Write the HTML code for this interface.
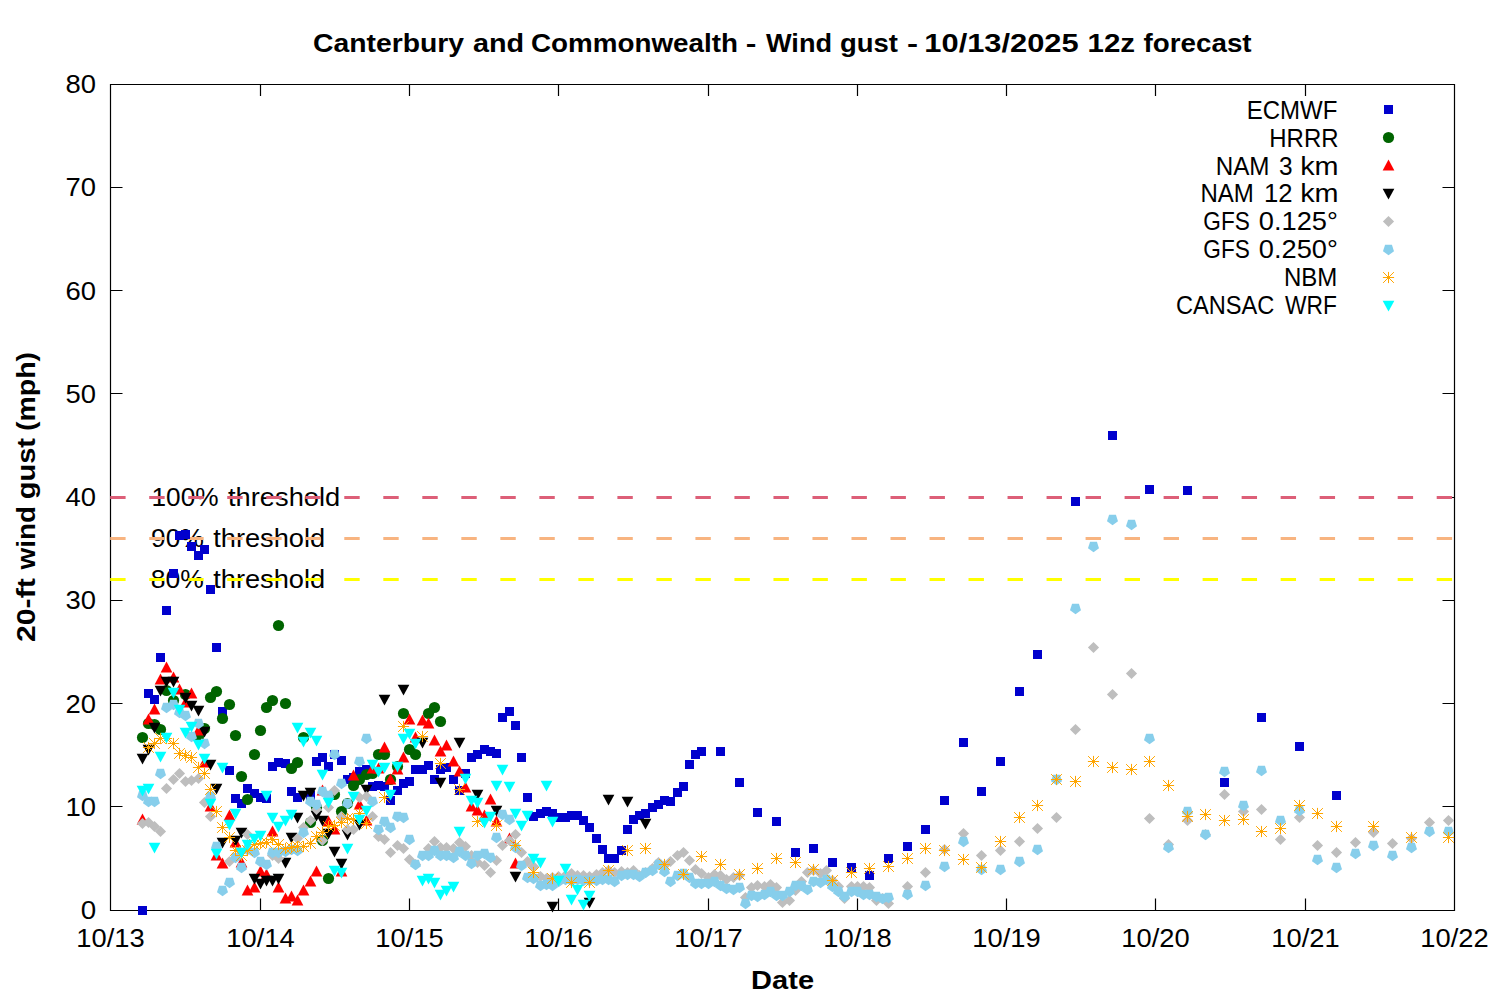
<!DOCTYPE html><html><head><meta charset="utf-8"><style>html,body{margin:0;padding:0;background:#fff;}svg{display:block;} text{font-family:"Liberation Sans", sans-serif;}</style></head><body>
<svg width="1500" height="1000" viewBox="0 0 1500 1000" font-family="'Liberation Sans', sans-serif">
<rect width="1500" height="1000" fill="#fff"/>
<text x="312.99" y="51.8" font-size="26" font-weight="bold" textLength="151.01" lengthAdjust="spacingAndGlyphs">Canterbury</text>
<text x="472.93" y="51.8" font-size="26" font-weight="bold" textLength="51.20" lengthAdjust="spacingAndGlyphs">and</text>
<text x="530.99" y="51.8" font-size="26" font-weight="bold" textLength="207.02" lengthAdjust="spacingAndGlyphs">Commonwealth</text>
<text x="745.67" y="51.8" font-size="26" font-weight="bold" textLength="10.67" lengthAdjust="spacingAndGlyphs">-</text>
<text x="766.00" y="51.8" font-size="26" font-weight="bold" textLength="66.02" lengthAdjust="spacingAndGlyphs">Wind</text>
<text x="839.98" y="51.8" font-size="26" font-weight="bold" textLength="58.02" lengthAdjust="spacingAndGlyphs">gust</text>
<text x="907.07" y="51.8" font-size="26" font-weight="bold" textLength="11.06" lengthAdjust="spacingAndGlyphs">-</text>
<text x="924.36" y="51.8" font-size="26" font-weight="bold" textLength="154.25" lengthAdjust="spacingAndGlyphs">10/13/2025</text>
<text x="1087.49" y="51.8" font-size="26" font-weight="bold" textLength="47.59" lengthAdjust="spacingAndGlyphs">12z</text>
<text x="1143.59" y="51.8" font-size="26" font-weight="bold" textLength="108.02" lengthAdjust="spacingAndGlyphs">forecast</text>
<text x="80.83" y="919.0" font-size="25" textLength="15.43" lengthAdjust="spacingAndGlyphs">0</text>
<text x="65.61" y="815.8" font-size="25" textLength="30.49" lengthAdjust="spacingAndGlyphs">10</text>
<text x="65.61" y="712.5" font-size="25" textLength="30.49" lengthAdjust="spacingAndGlyphs">20</text>
<text x="65.61" y="609.2" font-size="25" textLength="30.49" lengthAdjust="spacingAndGlyphs">30</text>
<text x="65.61" y="506.0" font-size="25" textLength="30.49" lengthAdjust="spacingAndGlyphs">40</text>
<text x="65.61" y="402.8" font-size="25" textLength="30.49" lengthAdjust="spacingAndGlyphs">50</text>
<text x="65.61" y="299.5" font-size="25" textLength="30.49" lengthAdjust="spacingAndGlyphs">60</text>
<text x="65.61" y="196.2" font-size="25" textLength="30.49" lengthAdjust="spacingAndGlyphs">70</text>
<text x="65.61" y="93.0" font-size="25" textLength="30.49" lengthAdjust="spacingAndGlyphs">80</text>
<text x="76.39" y="947" font-size="25" textLength="68.36" lengthAdjust="spacingAndGlyphs">10/13</text>
<text x="226.39" y="947" font-size="25" textLength="68.36" lengthAdjust="spacingAndGlyphs">10/14</text>
<text x="375.39" y="947" font-size="25" textLength="68.36" lengthAdjust="spacingAndGlyphs">10/15</text>
<text x="524.39" y="947" font-size="25" textLength="68.36" lengthAdjust="spacingAndGlyphs">10/16</text>
<text x="674.39" y="947" font-size="25" textLength="68.36" lengthAdjust="spacingAndGlyphs">10/17</text>
<text x="823.39" y="947" font-size="25" textLength="68.36" lengthAdjust="spacingAndGlyphs">10/18</text>
<text x="972.39" y="947" font-size="25" textLength="68.36" lengthAdjust="spacingAndGlyphs">10/19</text>
<text x="1121.39" y="947" font-size="25" textLength="68.36" lengthAdjust="spacingAndGlyphs">10/20</text>
<text x="1271.39" y="947" font-size="25" textLength="68.36" lengthAdjust="spacingAndGlyphs">10/21</text>
<text x="1420.39" y="947" font-size="25" textLength="68.36" lengthAdjust="spacingAndGlyphs">10/22</text>
<text x="751.11" y="988.9" font-size="25" font-weight="bold" textLength="62.92" lengthAdjust="spacingAndGlyphs">Date</text>
<text transform="translate(35.1,0) rotate(-90)" x="-642.02" y="0" font-size="25" font-weight="bold" textLength="63.84" lengthAdjust="spacingAndGlyphs">20-ft</text>
<text transform="translate(35.1,0) rotate(-90)" x="-569.42" y="0" font-size="25" font-weight="bold" textLength="63.28" lengthAdjust="spacingAndGlyphs">wind</text>
<text transform="translate(35.1,0) rotate(-90)" x="-499.23" y="0" font-size="25" font-weight="bold" textLength="61.23" lengthAdjust="spacingAndGlyphs">gust</text>
<text transform="translate(35.1,0) rotate(-90)" x="-431.08" y="0" font-size="25" font-weight="bold" textLength="79.15" lengthAdjust="spacingAndGlyphs">(mph)</text>
<text x="151.53" y="505.9" font-size="25" textLength="67.08" lengthAdjust="spacingAndGlyphs">100%</text>
<text x="228.00" y="505.9" font-size="25" textLength="112.23" lengthAdjust="spacingAndGlyphs">threshold</text>
<text x="151.14" y="547.3" font-size="25" textLength="52.68" lengthAdjust="spacingAndGlyphs">90%</text>
<text x="213.19" y="547.3" font-size="25" textLength="112.04" lengthAdjust="spacingAndGlyphs">threshold</text>
<text x="150.74" y="588.2" font-size="25" textLength="53.08" lengthAdjust="spacingAndGlyphs">80%</text>
<text x="213.19" y="588.2" font-size="25" textLength="112.04" lengthAdjust="spacingAndGlyphs">threshold</text>
<path d="M110.5,84.5H1454.5V910.5H110.5ZM110.5,806.5h12M1454.5,806.5h-12M110.5,703.5h12M1454.5,703.5h-12M110.5,600.5h12M1454.5,600.5h-12M110.5,497.5h12M1454.5,497.5h-12M110.5,393.5h12M1454.5,393.5h-12M110.5,290.5h12M1454.5,290.5h-12M110.5,187.5h12M1454.5,187.5h-12M260.5,910.5v-12M260.5,84.5v11.5M409.5,910.5v-12M409.5,84.5v11.5M558.5,910.5v-12M558.5,84.5v11.5M708.5,910.5v-12M708.5,84.5v11.5M857.5,910.5v-12M857.5,84.5v11.5M1006.5,910.5v-12M1006.5,84.5v11.5M1155.5,910.5v-12M1155.5,84.5v11.5M1305.5,910.5v-12M1305.5,84.5v11.5" fill="none" stroke="#000" stroke-width="1.2"/>
<path d="M110.2,497.50H1454" stroke="#dd5f78" stroke-width="3" stroke-dasharray="15.4 23.615" fill="none"/>
<path d="M110.2,538.50H1454" stroke="#f8b480" stroke-width="3" stroke-dasharray="15.4 23.615" fill="none"/>
<path d="M110.2,579.50H1454" stroke="#ffff00" stroke-width="3" stroke-dasharray="15.4 23.615" fill="none"/>
<text x="1246.73" y="118.5" font-size="25" textLength="90.70" lengthAdjust="spacingAndGlyphs">ECMWF</text>
<text x="1269.30" y="146.5" font-size="25" textLength="69.16" lengthAdjust="spacingAndGlyphs">HRRR</text>
<text x="1215.67" y="174.5" font-size="25" textLength="53.83" lengthAdjust="spacingAndGlyphs">NAM</text>
<text x="1278.97" y="174.5" font-size="25" textLength="13.55" lengthAdjust="spacingAndGlyphs">3</text>
<text x="1300.20" y="174.5" font-size="25" textLength="38.41" lengthAdjust="spacingAndGlyphs">km</text>
<text x="1200.48" y="202.1" font-size="25" textLength="53.41" lengthAdjust="spacingAndGlyphs">NAM</text>
<text x="1264.03" y="202.1" font-size="25" textLength="28.55" lengthAdjust="spacingAndGlyphs">12</text>
<text x="1300.20" y="202.1" font-size="25" textLength="38.41" lengthAdjust="spacingAndGlyphs">km</text>
<text x="1203.36" y="230.4" font-size="25" textLength="46.47" lengthAdjust="spacingAndGlyphs">GFS</text>
<text x="1258.76" y="230.4" font-size="25" textLength="79.09" lengthAdjust="spacingAndGlyphs">0.125°</text>
<text x="1203.36" y="258.4" font-size="25" textLength="46.47" lengthAdjust="spacingAndGlyphs">GFS</text>
<text x="1258.76" y="258.4" font-size="25" textLength="79.09" lengthAdjust="spacingAndGlyphs">0.250°</text>
<text x="1283.90" y="285.8" font-size="25" textLength="53.41" lengthAdjust="spacingAndGlyphs">NBM</text>
<text x="1175.98" y="313.8" font-size="25" textLength="98.43" lengthAdjust="spacingAndGlyphs">CANSAC</text>
<text x="1284.98" y="313.8" font-size="25" textLength="51.84" lengthAdjust="spacingAndGlyphs">WRF</text>
<g fill="#0000cd"><rect x="1384.0" y="105.0" width="9" height="9"/></g>
<g fill="#006400"><circle cx="1388.5" cy="137.5" r="5.6"/></g>
<g fill="#ff0000"><path d="M1388.5,159.4l5.85,11h-11.7z"/></g>
<g fill="#000000"><path d="M1388.5,199.4l5.85,-10.6h-11.7z"/></g>
<g fill="#bebebe"><path d="M1388.5,215.9l5.6,5.6l-5.6,5.6l-5.6,-5.6z"/></g>
<g fill="#87ceeb"><path d="M1388.5,255.3L1383.0,251.3L1385.1,244.8L1391.9,244.8L1394.0,251.3Z"/></g>
<g fill="none" stroke="#ffa500" stroke-width="1"><path d="M1382.9,277.5h11.2M1388.5,271.9v11.2M1383.1,272.1l10.8,10.8M1383.1,282.9l10.8,-10.8"/></g>
<g fill="#00ffff"><path d="M1388.5,311.4l5.85,-10.6h-11.7z"/></g>
<g fill="#0000cd"><rect x="138.0" y="906.0" width="9" height="9"/><rect x="144.0" y="689.0" width="9" height="9"/><rect x="150.0" y="695.0" width="9" height="9"/><rect x="156.0" y="653.0" width="9" height="9"/><rect x="162.0" y="606.0" width="9" height="9"/><rect x="169.0" y="569.0" width="9" height="9"/><rect x="175.0" y="531.0" width="9" height="9"/><rect x="181.0" y="530.0" width="9" height="9"/><rect x="187.0" y="542.0" width="9" height="9"/><rect x="194.0" y="551.0" width="9" height="9"/><rect x="200.0" y="545.0" width="9" height="9"/><rect x="206.0" y="585.0" width="9" height="9"/><rect x="212.0" y="643.0" width="9" height="9"/><rect x="218.0" y="707.0" width="9" height="9"/><rect x="225.0" y="766.0" width="9" height="9"/><rect x="231.0" y="794.0" width="9" height="9"/><rect x="237.0" y="799.0" width="9" height="9"/><rect x="243.0" y="784.0" width="9" height="9"/><rect x="250.0" y="789.0" width="9" height="9"/><rect x="256.0" y="793.0" width="9" height="9"/><rect x="262.0" y="794.0" width="9" height="9"/><rect x="268.0" y="762.0" width="9" height="9"/><rect x="274.0" y="758.0" width="9" height="9"/><rect x="281.0" y="759.0" width="9" height="9"/><rect x="287.0" y="787.0" width="9" height="9"/><rect x="293.0" y="793.0" width="9" height="9"/><rect x="306.0" y="791.0" width="9" height="9"/><rect x="312.0" y="757.0" width="9" height="9"/><rect x="318.0" y="753.0" width="9" height="9"/><rect x="324.0" y="762.0" width="9" height="9"/><rect x="330.0" y="750.0" width="9" height="9"/><rect x="337.0" y="756.0" width="9" height="9"/><rect x="343.0" y="775.0" width="9" height="9"/><rect x="349.0" y="773.0" width="9" height="9"/><rect x="355.0" y="767.0" width="9" height="9"/><rect x="362.0" y="765.0" width="9" height="9"/><rect x="368.0" y="782.0" width="9" height="9"/><rect x="374.0" y="781.0" width="9" height="9"/><rect x="380.0" y="782.0" width="9" height="9"/><rect x="386.0" y="796.0" width="9" height="9"/><rect x="393.0" y="786.0" width="9" height="9"/><rect x="399.0" y="779.0" width="9" height="9"/><rect x="405.0" y="777.0" width="9" height="9"/><rect x="411.0" y="765.0" width="9" height="9"/><rect x="418.0" y="765.0" width="9" height="9"/><rect x="424.0" y="761.0" width="9" height="9"/><rect x="430.0" y="775.0" width="9" height="9"/><rect x="436.0" y="765.0" width="9" height="9"/><rect x="442.0" y="763.0" width="9" height="9"/><rect x="449.0" y="775.0" width="9" height="9"/><rect x="455.0" y="786.0" width="9" height="9"/><rect x="461.0" y="769.0" width="9" height="9"/><rect x="467.0" y="753.0" width="9" height="9"/><rect x="473.0" y="750.0" width="9" height="9"/><rect x="480.0" y="745.0" width="9" height="9"/><rect x="486.0" y="747.0" width="9" height="9"/><rect x="492.0" y="749.0" width="9" height="9"/><rect x="498.0" y="713.0" width="9" height="9"/><rect x="505.0" y="707.0" width="9" height="9"/><rect x="511.0" y="721.0" width="9" height="9"/><rect x="517.0" y="753.0" width="9" height="9"/><rect x="523.0" y="793.0" width="9" height="9"/><rect x="529.0" y="812.0" width="9" height="9"/><rect x="536.0" y="809.0" width="9" height="9"/><rect x="542.0" y="807.0" width="9" height="9"/><rect x="548.0" y="809.0" width="9" height="9"/><rect x="554.0" y="813.0" width="9" height="9"/><rect x="561.0" y="813.0" width="9" height="9"/><rect x="567.0" y="811.0" width="9" height="9"/><rect x="573.0" y="811.0" width="9" height="9"/><rect x="579.0" y="816.0" width="9" height="9"/><rect x="585.0" y="823.0" width="9" height="9"/><rect x="592.0" y="834.0" width="9" height="9"/><rect x="598.0" y="845.0" width="9" height="9"/><rect x="604.0" y="854.0" width="9" height="9"/><rect x="610.0" y="854.0" width="9" height="9"/><rect x="617.0" y="846.0" width="9" height="9"/><rect x="623.0" y="825.0" width="9" height="9"/><rect x="629.0" y="815.0" width="9" height="9"/><rect x="635.0" y="811.0" width="9" height="9"/><rect x="641.0" y="809.0" width="9" height="9"/><rect x="648.0" y="803.0" width="9" height="9"/><rect x="654.0" y="800.0" width="9" height="9"/><rect x="660.0" y="796.0" width="9" height="9"/><rect x="666.0" y="797.0" width="9" height="9"/><rect x="673.0" y="788.0" width="9" height="9"/><rect x="679.0" y="782.0" width="9" height="9"/><rect x="685.0" y="760.0" width="9" height="9"/><rect x="691.0" y="750.0" width="9" height="9"/><rect x="697.0" y="747.0" width="9" height="9"/><rect x="716.0" y="747.0" width="9" height="9"/><rect x="735.0" y="778.0" width="9" height="9"/><rect x="753.0" y="808.0" width="9" height="9"/><rect x="772.0" y="817.0" width="9" height="9"/><rect x="791.0" y="848.0" width="9" height="9"/><rect x="809.0" y="844.0" width="9" height="9"/><rect x="828.0" y="858.0" width="9" height="9"/><rect x="847.0" y="863.0" width="9" height="9"/><rect x="865.0" y="871.0" width="9" height="9"/><rect x="884.0" y="854.0" width="9" height="9"/><rect x="903.0" y="842.0" width="9" height="9"/><rect x="921.0" y="825.0" width="9" height="9"/><rect x="940.0" y="796.0" width="9" height="9"/><rect x="959.0" y="738.0" width="9" height="9"/><rect x="977.0" y="787.0" width="9" height="9"/><rect x="996.0" y="757.0" width="9" height="9"/><rect x="1015.0" y="687.0" width="9" height="9"/><rect x="1033.0" y="650.0" width="9" height="9"/><rect x="1071.0" y="497.0" width="9" height="9"/><rect x="1108.0" y="431.0" width="9" height="9"/><rect x="1145.0" y="485.0" width="9" height="9"/><rect x="1183.0" y="486.0" width="9" height="9"/><rect x="1220.0" y="778.0" width="9" height="9"/><rect x="1257.0" y="713.0" width="9" height="9"/><rect x="1295.0" y="742.0" width="9" height="9"/><rect x="1332.0" y="791.0" width="9" height="9"/></g>
<g fill="#006400"><circle cx="142.5" cy="737.5" r="5.6"/><circle cx="148.5" cy="723.5" r="5.6"/><circle cx="154.5" cy="724.5" r="5.6"/><circle cx="160.5" cy="729.5" r="5.6"/><circle cx="166.5" cy="690.5" r="5.6"/><circle cx="173.5" cy="700.5" r="5.6"/><circle cx="185.5" cy="694.5" r="5.6"/><circle cx="198.5" cy="736.5" r="5.6"/><circle cx="204.5" cy="728.5" r="5.6"/><circle cx="210.5" cy="697.5" r="5.6"/><circle cx="216.5" cy="691.5" r="5.6"/><circle cx="222.5" cy="718.5" r="5.6"/><circle cx="229.5" cy="704.5" r="5.6"/><circle cx="235.5" cy="735.5" r="5.6"/><circle cx="241.5" cy="776.5" r="5.6"/><circle cx="247.5" cy="799.5" r="5.6"/><circle cx="254.5" cy="754.5" r="5.6"/><circle cx="260.5" cy="730.5" r="5.6"/><circle cx="266.5" cy="707.5" r="5.6"/><circle cx="272.5" cy="700.5" r="5.6"/><circle cx="278.5" cy="625.5" r="5.6"/><circle cx="285.5" cy="703.5" r="5.6"/><circle cx="291.5" cy="768.5" r="5.6"/><circle cx="297.5" cy="762.5" r="5.6"/><circle cx="303.5" cy="737.5" r="5.6"/><circle cx="310.5" cy="822.5" r="5.6"/><circle cx="316.5" cy="807.5" r="5.6"/><circle cx="322.5" cy="840.5" r="5.6"/><circle cx="328.5" cy="878.5" r="5.6"/><circle cx="334.5" cy="794.5" r="5.6"/><circle cx="341.5" cy="811.5" r="5.6"/><circle cx="347.5" cy="803.5" r="5.6"/><circle cx="353.5" cy="785.5" r="5.6"/><circle cx="359.5" cy="779.5" r="5.6"/><circle cx="366.5" cy="774.5" r="5.6"/><circle cx="372.5" cy="773.5" r="5.6"/><circle cx="378.5" cy="754.5" r="5.6"/><circle cx="384.5" cy="754.5" r="5.6"/><circle cx="390.5" cy="779.5" r="5.6"/><circle cx="397.5" cy="766.5" r="5.6"/><circle cx="403.5" cy="713.5" r="5.6"/><circle cx="409.5" cy="749.5" r="5.6"/><circle cx="415.5" cy="754.5" r="5.6"/><circle cx="428.5" cy="713.5" r="5.6"/><circle cx="434.5" cy="707.5" r="5.6"/><circle cx="440.5" cy="721.5" r="5.6"/></g>
<g fill="#ff0000"><path d="M142.5,813.4l5.85,11h-11.7z"/><path d="M148.5,713.4l5.85,11h-11.7z"/><path d="M154.5,703.4l5.85,11h-11.7z"/><path d="M160.5,673.4l5.85,11h-11.7z"/><path d="M166.5,661.4l5.85,11h-11.7z"/><path d="M173.5,671.4l5.85,11h-11.7z"/><path d="M179.5,683.4l5.85,11h-11.7z"/><path d="M185.5,696.4l5.85,11h-11.7z"/><path d="M191.5,687.4l5.85,11h-11.7z"/><path d="M198.5,724.4l5.85,11h-11.7z"/><path d="M204.5,756.4l5.85,11h-11.7z"/><path d="M210.5,800.4l5.85,11h-11.7z"/><path d="M216.5,849.4l5.85,11h-11.7z"/><path d="M222.5,857.4l5.85,11h-11.7z"/><path d="M229.5,809.4l5.85,11h-11.7z"/><path d="M235.5,836.4l5.85,11h-11.7z"/><path d="M241.5,856.4l5.85,11h-11.7z"/><path d="M247.5,884.4l5.85,11h-11.7z"/><path d="M254.5,881.4l5.85,11h-11.7z"/><path d="M260.5,865.4l5.85,11h-11.7z"/><path d="M266.5,868.4l5.85,11h-11.7z"/><path d="M272.5,825.4l5.85,11h-11.7z"/><path d="M278.5,881.4l5.85,11h-11.7z"/><path d="M285.5,892.4l5.85,11h-11.7z"/><path d="M291.5,890.4l5.85,11h-11.7z"/><path d="M297.5,894.4l5.85,11h-11.7z"/><path d="M303.5,884.4l5.85,11h-11.7z"/><path d="M310.5,875.4l5.85,11h-11.7z"/><path d="M316.5,865.4l5.85,11h-11.7z"/><path d="M322.5,784.4l5.85,11h-11.7z"/><path d="M328.5,815.4l5.85,11h-11.7z"/><path d="M334.5,823.4l5.85,11h-11.7z"/><path d="M341.5,865.4l5.85,11h-11.7z"/><path d="M353.5,769.4l5.85,11h-11.7z"/><path d="M359.5,798.4l5.85,11h-11.7z"/><path d="M366.5,814.4l5.85,11h-11.7z"/><path d="M372.5,762.4l5.85,11h-11.7z"/><path d="M378.5,762.4l5.85,11h-11.7z"/><path d="M384.5,741.4l5.85,11h-11.7z"/><path d="M390.5,773.4l5.85,11h-11.7z"/><path d="M397.5,763.4l5.85,11h-11.7z"/><path d="M403.5,751.4l5.85,11h-11.7z"/><path d="M409.5,713.4l5.85,11h-11.7z"/><path d="M415.5,731.4l5.85,11h-11.7z"/><path d="M422.5,714.4l5.85,11h-11.7z"/><path d="M428.5,717.4l5.85,11h-11.7z"/><path d="M434.5,734.4l5.85,11h-11.7z"/><path d="M440.5,745.4l5.85,11h-11.7z"/><path d="M446.5,739.4l5.85,11h-11.7z"/><path d="M453.5,755.4l5.85,11h-11.7z"/><path d="M459.5,765.4l5.85,11h-11.7z"/><path d="M465.5,781.4l5.85,11h-11.7z"/><path d="M471.5,800.4l5.85,11h-11.7z"/><path d="M477.5,804.4l5.85,11h-11.7z"/><path d="M484.5,809.4l5.85,11h-11.7z"/><path d="M490.5,793.4l5.85,11h-11.7z"/><path d="M496.5,815.4l5.85,11h-11.7z"/><path d="M509.5,832.4l5.85,11h-11.7z"/><path d="M515.5,857.4l5.85,11h-11.7z"/></g>
<g fill="#000000"><path d="M142.5,764.4l5.85,-10.6h-11.7z"/><path d="M148.5,755.4l5.85,-10.6h-11.7z"/><path d="M154.5,733.4l5.85,-10.6h-11.7z"/><path d="M160.5,696.4l5.85,-10.6h-11.7z"/><path d="M166.5,687.4l5.85,-10.6h-11.7z"/><path d="M173.5,687.4l5.85,-10.6h-11.7z"/><path d="M185.5,703.4l5.85,-10.6h-11.7z"/><path d="M191.5,711.4l5.85,-10.6h-11.7z"/><path d="M198.5,716.4l5.85,-10.6h-11.7z"/><path d="M204.5,737.4l5.85,-10.6h-11.7z"/><path d="M210.5,770.4l5.85,-10.6h-11.7z"/><path d="M216.5,794.4l5.85,-10.6h-11.7z"/><path d="M222.5,848.4l5.85,-10.6h-11.7z"/><path d="M235.5,846.4l5.85,-10.6h-11.7z"/><path d="M241.5,838.4l5.85,-10.6h-11.7z"/><path d="M254.5,884.4l5.85,-10.6h-11.7z"/><path d="M260.5,889.4l5.85,-10.6h-11.7z"/><path d="M266.5,886.4l5.85,-10.6h-11.7z"/><path d="M272.5,886.4l5.85,-10.6h-11.7z"/><path d="M278.5,884.4l5.85,-10.6h-11.7z"/><path d="M285.5,868.4l5.85,-10.6h-11.7z"/><path d="M291.5,843.4l5.85,-10.6h-11.7z"/><path d="M297.5,823.4l5.85,-10.6h-11.7z"/><path d="M303.5,801.4l5.85,-10.6h-11.7z"/><path d="M310.5,798.4l5.85,-10.6h-11.7z"/><path d="M316.5,821.4l5.85,-10.6h-11.7z"/><path d="M322.5,826.4l5.85,-10.6h-11.7z"/><path d="M328.5,839.4l5.85,-10.6h-11.7z"/><path d="M334.5,857.4l5.85,-10.6h-11.7z"/><path d="M341.5,869.4l5.85,-10.6h-11.7z"/><path d="M347.5,840.4l5.85,-10.6h-11.7z"/><path d="M359.5,830.4l5.85,-10.6h-11.7z"/><path d="M366.5,795.4l5.85,-10.6h-11.7z"/><path d="M384.5,705.4l5.85,-10.6h-11.7z"/><path d="M403.5,695.4l5.85,-10.6h-11.7z"/><path d="M422.5,748.4l5.85,-10.6h-11.7z"/><path d="M440.5,788.4l5.85,-10.6h-11.7z"/><path d="M459.5,748.4l5.85,-10.6h-11.7z"/><path d="M477.5,800.4l5.85,-10.6h-11.7z"/><path d="M496.5,816.4l5.85,-10.6h-11.7z"/><path d="M515.5,882.4l5.85,-10.6h-11.7z"/><path d="M552.5,912.4l5.85,-10.6h-11.7z"/><path d="M589.5,908.4l5.85,-10.6h-11.7z"/><path d="M608.5,805.4l5.85,-10.6h-11.7z"/><path d="M627.5,807.4l5.85,-10.6h-11.7z"/><path d="M645.5,829.4l5.85,-10.6h-11.7z"/></g>
<g fill="#bebebe"><path d="M142.5,817.9l5.6,5.6l-5.6,5.6l-5.6,-5.6z"/><path d="M148.5,816.9l5.6,5.6l-5.6,5.6l-5.6,-5.6z"/><path d="M154.5,820.9l5.6,5.6l-5.6,5.6l-5.6,-5.6z"/><path d="M160.5,825.9l5.6,5.6l-5.6,5.6l-5.6,-5.6z"/><path d="M166.5,782.9l5.6,5.6l-5.6,5.6l-5.6,-5.6z"/><path d="M173.5,773.9l5.6,5.6l-5.6,5.6l-5.6,-5.6z"/><path d="M179.5,767.9l5.6,5.6l-5.6,5.6l-5.6,-5.6z"/><path d="M185.5,775.9l5.6,5.6l-5.6,5.6l-5.6,-5.6z"/><path d="M191.5,774.9l5.6,5.6l-5.6,5.6l-5.6,-5.6z"/><path d="M198.5,772.9l5.6,5.6l-5.6,5.6l-5.6,-5.6z"/><path d="M204.5,796.9l5.6,5.6l-5.6,5.6l-5.6,-5.6z"/><path d="M210.5,810.9l5.6,5.6l-5.6,5.6l-5.6,-5.6z"/><path d="M229.5,855.9l5.6,5.6l-5.6,5.6l-5.6,-5.6z"/><path d="M247.5,828.9l5.6,5.6l-5.6,5.6l-5.6,-5.6z"/><path d="M272.5,849.9l5.6,5.6l-5.6,5.6l-5.6,-5.6z"/><path d="M278.5,852.9l5.6,5.6l-5.6,5.6l-5.6,-5.6z"/><path d="M297.5,832.9l5.6,5.6l-5.6,5.6l-5.6,-5.6z"/><path d="M303.5,821.9l5.6,5.6l-5.6,5.6l-5.6,-5.6z"/><path d="M310.5,814.9l5.6,5.6l-5.6,5.6l-5.6,-5.6z"/><path d="M316.5,803.9l5.6,5.6l-5.6,5.6l-5.6,-5.6z"/><path d="M322.5,834.9l5.6,5.6l-5.6,5.6l-5.6,-5.6z"/><path d="M328.5,801.9l5.6,5.6l-5.6,5.6l-5.6,-5.6z"/><path d="M334.5,784.9l5.6,5.6l-5.6,5.6l-5.6,-5.6z"/><path d="M341.5,810.9l5.6,5.6l-5.6,5.6l-5.6,-5.6z"/><path d="M347.5,823.9l5.6,5.6l-5.6,5.6l-5.6,-5.6z"/><path d="M353.5,823.9l5.6,5.6l-5.6,5.6l-5.6,-5.6z"/><path d="M359.5,791.9l5.6,5.6l-5.6,5.6l-5.6,-5.6z"/><path d="M366.5,790.9l5.6,5.6l-5.6,5.6l-5.6,-5.6z"/><path d="M372.5,810.9l5.6,5.6l-5.6,5.6l-5.6,-5.6z"/><path d="M378.5,830.9l5.6,5.6l-5.6,5.6l-5.6,-5.6z"/><path d="M384.5,833.9l5.6,5.6l-5.6,5.6l-5.6,-5.6z"/><path d="M390.5,846.9l5.6,5.6l-5.6,5.6l-5.6,-5.6z"/><path d="M397.5,839.9l5.6,5.6l-5.6,5.6l-5.6,-5.6z"/><path d="M403.5,842.9l5.6,5.6l-5.6,5.6l-5.6,-5.6z"/><path d="M409.5,853.9l5.6,5.6l-5.6,5.6l-5.6,-5.6z"/><path d="M415.5,858.9l5.6,5.6l-5.6,5.6l-5.6,-5.6z"/><path d="M428.5,842.9l5.6,5.6l-5.6,5.6l-5.6,-5.6z"/><path d="M434.5,835.9l5.6,5.6l-5.6,5.6l-5.6,-5.6z"/><path d="M440.5,841.9l5.6,5.6l-5.6,5.6l-5.6,-5.6z"/><path d="M446.5,841.9l5.6,5.6l-5.6,5.6l-5.6,-5.6z"/><path d="M453.5,842.9l5.6,5.6l-5.6,5.6l-5.6,-5.6z"/><path d="M459.5,836.9l5.6,5.6l-5.6,5.6l-5.6,-5.6z"/><path d="M465.5,840.9l5.6,5.6l-5.6,5.6l-5.6,-5.6z"/><path d="M471.5,849.9l5.6,5.6l-5.6,5.6l-5.6,-5.6z"/><path d="M477.5,856.9l5.6,5.6l-5.6,5.6l-5.6,-5.6z"/><path d="M484.5,859.9l5.6,5.6l-5.6,5.6l-5.6,-5.6z"/><path d="M490.5,866.9l5.6,5.6l-5.6,5.6l-5.6,-5.6z"/><path d="M496.5,854.9l5.6,5.6l-5.6,5.6l-5.6,-5.6z"/><path d="M502.5,839.9l5.6,5.6l-5.6,5.6l-5.6,-5.6z"/><path d="M509.5,834.9l5.6,5.6l-5.6,5.6l-5.6,-5.6z"/><path d="M515.5,828.9l5.6,5.6l-5.6,5.6l-5.6,-5.6z"/><path d="M521.5,846.9l5.6,5.6l-5.6,5.6l-5.6,-5.6z"/><path d="M527.5,855.9l5.6,5.6l-5.6,5.6l-5.6,-5.6z"/><path d="M533.5,860.9l5.6,5.6l-5.6,5.6l-5.6,-5.6z"/><path d="M540.5,870.9l5.6,5.6l-5.6,5.6l-5.6,-5.6z"/><path d="M546.5,872.9l5.6,5.6l-5.6,5.6l-5.6,-5.6z"/><path d="M552.5,871.9l5.6,5.6l-5.6,5.6l-5.6,-5.6z"/><path d="M558.5,870.9l5.6,5.6l-5.6,5.6l-5.6,-5.6z"/><path d="M565.5,869.9l5.6,5.6l-5.6,5.6l-5.6,-5.6z"/><path d="M571.5,867.9l5.6,5.6l-5.6,5.6l-5.6,-5.6z"/><path d="M577.5,869.9l5.6,5.6l-5.6,5.6l-5.6,-5.6z"/><path d="M583.5,869.9l5.6,5.6l-5.6,5.6l-5.6,-5.6z"/><path d="M589.5,870.9l5.6,5.6l-5.6,5.6l-5.6,-5.6z"/><path d="M596.5,868.9l5.6,5.6l-5.6,5.6l-5.6,-5.6z"/><path d="M602.5,866.9l5.6,5.6l-5.6,5.6l-5.6,-5.6z"/><path d="M608.5,864.9l5.6,5.6l-5.6,5.6l-5.6,-5.6z"/><path d="M614.5,866.9l5.6,5.6l-5.6,5.6l-5.6,-5.6z"/><path d="M621.5,865.9l5.6,5.6l-5.6,5.6l-5.6,-5.6z"/><path d="M627.5,866.9l5.6,5.6l-5.6,5.6l-5.6,-5.6z"/><path d="M633.5,864.9l5.6,5.6l-5.6,5.6l-5.6,-5.6z"/><path d="M639.5,869.9l5.6,5.6l-5.6,5.6l-5.6,-5.6z"/><path d="M645.5,866.9l5.6,5.6l-5.6,5.6l-5.6,-5.6z"/><path d="M652.5,862.9l5.6,5.6l-5.6,5.6l-5.6,-5.6z"/><path d="M658.5,856.9l5.6,5.6l-5.6,5.6l-5.6,-5.6z"/><path d="M664.5,859.9l5.6,5.6l-5.6,5.6l-5.6,-5.6z"/><path d="M670.5,855.9l5.6,5.6l-5.6,5.6l-5.6,-5.6z"/><path d="M677.5,849.9l5.6,5.6l-5.6,5.6l-5.6,-5.6z"/><path d="M683.5,846.9l5.6,5.6l-5.6,5.6l-5.6,-5.6z"/><path d="M689.5,854.9l5.6,5.6l-5.6,5.6l-5.6,-5.6z"/><path d="M695.5,863.9l5.6,5.6l-5.6,5.6l-5.6,-5.6z"/><path d="M701.5,867.9l5.6,5.6l-5.6,5.6l-5.6,-5.6z"/><path d="M708.5,871.9l5.6,5.6l-5.6,5.6l-5.6,-5.6z"/><path d="M714.5,868.9l5.6,5.6l-5.6,5.6l-5.6,-5.6z"/><path d="M720.5,869.9l5.6,5.6l-5.6,5.6l-5.6,-5.6z"/><path d="M726.5,873.9l5.6,5.6l-5.6,5.6l-5.6,-5.6z"/><path d="M733.5,871.9l5.6,5.6l-5.6,5.6l-5.6,-5.6z"/><path d="M739.5,869.9l5.6,5.6l-5.6,5.6l-5.6,-5.6z"/><path d="M745.5,891.9l5.6,5.6l-5.6,5.6l-5.6,-5.6z"/><path d="M751.5,881.9l5.6,5.6l-5.6,5.6l-5.6,-5.6z"/><path d="M757.5,879.9l5.6,5.6l-5.6,5.6l-5.6,-5.6z"/><path d="M764.5,880.9l5.6,5.6l-5.6,5.6l-5.6,-5.6z"/><path d="M770.5,878.9l5.6,5.6l-5.6,5.6l-5.6,-5.6z"/><path d="M776.5,881.9l5.6,5.6l-5.6,5.6l-5.6,-5.6z"/><path d="M782.5,896.9l5.6,5.6l-5.6,5.6l-5.6,-5.6z"/><path d="M789.5,894.9l5.6,5.6l-5.6,5.6l-5.6,-5.6z"/><path d="M795.5,884.9l5.6,5.6l-5.6,5.6l-5.6,-5.6z"/><path d="M801.5,875.9l5.6,5.6l-5.6,5.6l-5.6,-5.6z"/><path d="M807.5,866.9l5.6,5.6l-5.6,5.6l-5.6,-5.6z"/><path d="M813.5,864.9l5.6,5.6l-5.6,5.6l-5.6,-5.6z"/><path d="M820.5,867.9l5.6,5.6l-5.6,5.6l-5.6,-5.6z"/><path d="M826.5,864.9l5.6,5.6l-5.6,5.6l-5.6,-5.6z"/><path d="M832.5,874.9l5.6,5.6l-5.6,5.6l-5.6,-5.6z"/><path d="M838.5,880.9l5.6,5.6l-5.6,5.6l-5.6,-5.6z"/><path d="M844.5,892.9l5.6,5.6l-5.6,5.6l-5.6,-5.6z"/><path d="M851.5,880.9l5.6,5.6l-5.6,5.6l-5.6,-5.6z"/><path d="M857.5,880.9l5.6,5.6l-5.6,5.6l-5.6,-5.6z"/><path d="M863.5,880.9l5.6,5.6l-5.6,5.6l-5.6,-5.6z"/><path d="M869.5,881.9l5.6,5.6l-5.6,5.6l-5.6,-5.6z"/><path d="M876.5,894.9l5.6,5.6l-5.6,5.6l-5.6,-5.6z"/><path d="M882.5,892.9l5.6,5.6l-5.6,5.6l-5.6,-5.6z"/><path d="M888.5,897.9l5.6,5.6l-5.6,5.6l-5.6,-5.6z"/><path d="M907.5,880.9l5.6,5.6l-5.6,5.6l-5.6,-5.6z"/><path d="M925.5,866.9l5.6,5.6l-5.6,5.6l-5.6,-5.6z"/><path d="M944.5,843.9l5.6,5.6l-5.6,5.6l-5.6,-5.6z"/><path d="M963.5,827.9l5.6,5.6l-5.6,5.6l-5.6,-5.6z"/><path d="M981.5,849.9l5.6,5.6l-5.6,5.6l-5.6,-5.6z"/><path d="M1000.5,844.9l5.6,5.6l-5.6,5.6l-5.6,-5.6z"/><path d="M1019.5,835.9l5.6,5.6l-5.6,5.6l-5.6,-5.6z"/><path d="M1037.5,822.9l5.6,5.6l-5.6,5.6l-5.6,-5.6z"/><path d="M1056.5,811.9l5.6,5.6l-5.6,5.6l-5.6,-5.6z"/><path d="M1075.5,723.9l5.6,5.6l-5.6,5.6l-5.6,-5.6z"/><path d="M1093.5,641.9l5.6,5.6l-5.6,5.6l-5.6,-5.6z"/><path d="M1112.5,688.9l5.6,5.6l-5.6,5.6l-5.6,-5.6z"/><path d="M1131.5,667.9l5.6,5.6l-5.6,5.6l-5.6,-5.6z"/><path d="M1149.5,812.9l5.6,5.6l-5.6,5.6l-5.6,-5.6z"/><path d="M1168.5,838.9l5.6,5.6l-5.6,5.6l-5.6,-5.6z"/><path d="M1187.5,814.9l5.6,5.6l-5.6,5.6l-5.6,-5.6z"/><path d="M1205.5,828.9l5.6,5.6l-5.6,5.6l-5.6,-5.6z"/><path d="M1224.5,788.9l5.6,5.6l-5.6,5.6l-5.6,-5.6z"/><path d="M1243.5,805.9l5.6,5.6l-5.6,5.6l-5.6,-5.6z"/><path d="M1261.5,803.9l5.6,5.6l-5.6,5.6l-5.6,-5.6z"/><path d="M1280.5,833.9l5.6,5.6l-5.6,5.6l-5.6,-5.6z"/><path d="M1299.5,811.9l5.6,5.6l-5.6,5.6l-5.6,-5.6z"/><path d="M1317.5,839.9l5.6,5.6l-5.6,5.6l-5.6,-5.6z"/><path d="M1336.5,846.9l5.6,5.6l-5.6,5.6l-5.6,-5.6z"/><path d="M1355.5,836.9l5.6,5.6l-5.6,5.6l-5.6,-5.6z"/><path d="M1373.5,826.9l5.6,5.6l-5.6,5.6l-5.6,-5.6z"/><path d="M1392.5,837.9l5.6,5.6l-5.6,5.6l-5.6,-5.6z"/><path d="M1411.5,832.9l5.6,5.6l-5.6,5.6l-5.6,-5.6z"/><path d="M1429.5,816.9l5.6,5.6l-5.6,5.6l-5.6,-5.6z"/><path d="M1448.5,814.9l5.6,5.6l-5.6,5.6l-5.6,-5.6z"/></g>
<g fill="#87ceeb"><path d="M142.5,801.3L137.0,797.3L139.1,790.8L145.9,790.8L148.0,797.3Z"/><path d="M148.5,807.3L143.0,803.3L145.1,796.8L151.9,796.8L154.0,803.3Z"/><path d="M154.5,807.3L149.0,803.3L151.1,796.8L157.9,796.8L160.0,803.3Z"/><path d="M160.5,779.3L155.0,775.3L157.1,768.8L163.9,768.8L166.0,775.3Z"/><path d="M166.5,713.3L161.0,709.3L163.1,702.8L169.9,702.8L172.0,709.3Z"/><path d="M173.5,710.3L168.0,706.3L170.1,699.8L176.9,699.8L179.0,706.3Z"/><path d="M179.5,718.3L174.0,714.3L176.1,707.8L182.9,707.8L185.0,714.3Z"/><path d="M185.5,721.3L180.0,717.3L182.1,710.8L188.9,710.8L191.0,717.3Z"/><path d="M191.5,742.3L186.0,738.3L188.1,731.8L194.9,731.8L197.0,738.3Z"/><path d="M198.5,729.3L193.0,725.3L195.1,718.8L201.9,718.8L204.0,725.3Z"/><path d="M204.5,749.3L199.0,745.3L201.1,738.8L207.9,738.8L210.0,745.3Z"/><path d="M210.5,802.3L205.0,798.3L207.1,791.8L213.9,791.8L216.0,798.3Z"/><path d="M216.5,852.3L211.0,848.3L213.1,841.8L219.9,841.8L222.0,848.3Z"/><path d="M222.5,896.3L217.0,892.3L219.1,885.8L225.9,885.8L228.0,892.3Z"/><path d="M229.5,888.3L224.0,884.3L226.1,877.8L232.9,877.8L235.0,884.3Z"/><path d="M235.5,863.3L230.0,859.3L232.1,852.8L238.9,852.8L241.0,859.3Z"/><path d="M241.5,873.3L236.0,869.3L238.1,862.8L244.9,862.8L247.0,869.3Z"/><path d="M247.5,855.3L242.0,851.3L244.1,844.8L250.9,844.8L253.0,851.3Z"/><path d="M254.5,858.3L249.0,854.3L251.1,847.8L257.9,847.8L260.0,854.3Z"/><path d="M260.5,867.3L255.0,863.3L257.1,856.8L263.9,856.8L266.0,863.3Z"/><path d="M266.5,870.3L261.0,866.3L263.1,859.8L269.9,859.8L272.0,866.3Z"/><path d="M272.5,858.3L267.0,854.3L269.1,847.8L275.9,847.8L278.0,854.3Z"/><path d="M278.5,858.3L273.0,854.3L275.1,847.8L281.9,847.8L284.0,854.3Z"/><path d="M285.5,857.3L280.0,853.3L282.1,846.8L288.9,846.8L291.0,853.3Z"/><path d="M291.5,855.3L286.0,851.3L288.1,844.8L294.9,844.8L297.0,851.3Z"/><path d="M297.5,856.3L292.0,852.3L294.1,845.8L300.9,845.8L303.0,852.3Z"/><path d="M303.5,838.3L298.0,834.3L300.1,827.8L306.9,827.8L309.0,834.3Z"/><path d="M310.5,807.3L305.0,803.3L307.1,796.8L313.9,796.8L316.0,803.3Z"/><path d="M316.5,810.3L311.0,806.3L313.1,799.8L319.9,799.8L322.0,806.3Z"/><path d="M322.5,797.3L317.0,793.3L319.1,786.8L325.9,786.8L328.0,793.3Z"/><path d="M328.5,801.3L323.0,797.3L325.1,790.8L331.9,790.8L334.0,797.3Z"/><path d="M334.5,760.3L329.0,756.3L331.1,749.8L337.9,749.8L340.0,756.3Z"/><path d="M341.5,789.3L336.0,785.3L338.1,778.8L344.9,778.8L347.0,785.3Z"/><path d="M347.5,809.3L342.0,805.3L344.1,798.8L350.9,798.8L353.0,805.3Z"/><path d="M359.5,767.3L354.0,763.3L356.1,756.8L362.9,756.8L365.0,763.3Z"/><path d="M366.5,744.3L361.0,740.3L363.1,733.8L369.9,733.8L372.0,740.3Z"/><path d="M372.5,807.3L367.0,803.3L369.1,796.8L375.9,796.8L378.0,803.3Z"/><path d="M378.5,835.3L373.0,831.3L375.1,824.8L381.9,824.8L384.0,831.3Z"/><path d="M384.5,827.3L379.0,823.3L381.1,816.8L387.9,816.8L390.0,823.3Z"/><path d="M390.5,833.3L385.0,829.3L387.1,822.8L393.9,822.8L396.0,829.3Z"/><path d="M397.5,822.3L392.0,818.3L394.1,811.8L400.9,811.8L403.0,818.3Z"/><path d="M403.5,823.3L398.0,819.3L400.1,812.8L406.9,812.8L409.0,819.3Z"/><path d="M409.5,845.3L404.0,841.3L406.1,834.8L412.9,834.8L415.0,841.3Z"/><path d="M415.5,870.3L410.0,866.3L412.1,859.8L418.9,859.8L421.0,866.3Z"/><path d="M422.5,861.3L417.0,857.3L419.1,850.8L425.9,850.8L428.0,857.3Z"/><path d="M428.5,861.3L423.0,857.3L425.1,850.8L431.9,850.8L434.0,857.3Z"/><path d="M434.5,856.3L429.0,852.3L431.1,845.8L437.9,845.8L440.0,852.3Z"/><path d="M440.5,861.3L435.0,857.3L437.1,850.8L443.9,850.8L446.0,857.3Z"/><path d="M446.5,861.3L441.0,857.3L443.1,850.8L449.9,850.8L452.0,857.3Z"/><path d="M453.5,863.3L448.0,859.3L450.1,852.8L456.9,852.8L459.0,859.3Z"/><path d="M459.5,857.3L454.0,853.3L456.1,846.8L462.9,846.8L465.0,853.3Z"/><path d="M465.5,861.3L460.0,857.3L462.1,850.8L468.9,850.8L471.0,857.3Z"/><path d="M471.5,869.3L466.0,865.3L468.1,858.8L474.9,858.8L477.0,865.3Z"/><path d="M477.5,861.3L472.0,857.3L474.1,850.8L480.9,850.8L483.0,857.3Z"/><path d="M484.5,859.3L479.0,855.3L481.1,848.8L487.9,848.8L490.0,855.3Z"/><path d="M490.5,863.3L485.0,859.3L487.1,852.8L493.9,852.8L496.0,859.3Z"/><path d="M496.5,843.3L491.0,839.3L493.1,832.8L499.9,832.8L502.0,839.3Z"/><path d="M502.5,820.3L497.0,816.3L499.1,809.8L505.9,809.8L508.0,816.3Z"/><path d="M509.5,825.3L504.0,821.3L506.1,814.8L512.9,814.8L515.0,821.3Z"/><path d="M515.5,853.3L510.0,849.3L512.1,842.8L518.9,842.8L521.0,849.3Z"/><path d="M521.5,871.3L516.0,867.3L518.1,860.8L524.9,860.8L527.0,867.3Z"/><path d="M527.5,883.3L522.0,879.3L524.1,872.8L530.9,872.8L533.0,879.3Z"/><path d="M533.5,884.3L528.0,880.3L530.1,873.8L536.9,873.8L539.0,880.3Z"/><path d="M540.5,891.3L535.0,887.3L537.1,880.8L543.9,880.8L546.0,887.3Z"/><path d="M546.5,890.3L541.0,886.3L543.1,879.8L549.9,879.8L552.0,886.3Z"/><path d="M552.5,891.3L547.0,887.3L549.1,880.8L555.9,880.8L558.0,887.3Z"/><path d="M558.5,887.3L553.0,883.3L555.1,876.8L561.9,876.8L564.0,883.3Z"/><path d="M565.5,885.3L560.0,881.3L562.1,874.8L568.9,874.8L571.0,881.3Z"/><path d="M571.5,886.3L566.0,882.3L568.1,875.8L574.9,875.8L577.0,882.3Z"/><path d="M577.5,885.3L572.0,881.3L574.1,874.8L580.9,874.8L583.0,881.3Z"/><path d="M583.5,886.3L578.0,882.3L580.1,875.8L586.9,875.8L589.0,882.3Z"/><path d="M589.5,886.3L584.0,882.3L586.1,875.8L592.9,875.8L595.0,882.3Z"/><path d="M596.5,886.3L591.0,882.3L593.1,875.8L599.9,875.8L602.0,882.3Z"/><path d="M602.5,885.3L597.0,881.3L599.1,874.8L605.9,874.8L608.0,881.3Z"/><path d="M608.5,885.3L603.0,881.3L605.1,874.8L611.9,874.8L614.0,881.3Z"/><path d="M614.5,887.3L609.0,883.3L611.1,876.8L617.9,876.8L620.0,883.3Z"/><path d="M621.5,881.3L616.0,877.3L618.1,870.8L624.9,870.8L627.0,877.3Z"/><path d="M627.5,880.3L622.0,876.3L624.1,869.8L630.9,869.8L633.0,876.3Z"/><path d="M633.5,880.3L628.0,876.3L630.1,869.8L636.9,869.8L639.0,876.3Z"/><path d="M639.5,882.3L634.0,878.3L636.1,871.8L642.9,871.8L645.0,878.3Z"/><path d="M645.5,878.3L640.0,874.3L642.1,867.8L648.9,867.8L651.0,874.3Z"/><path d="M652.5,876.3L647.0,872.3L649.1,865.8L655.9,865.8L658.0,872.3Z"/><path d="M658.5,870.3L653.0,866.3L655.1,859.8L661.9,859.8L664.0,866.3Z"/><path d="M664.5,877.3L659.0,873.3L661.1,866.8L667.9,866.8L670.0,873.3Z"/><path d="M670.5,887.3L665.0,883.3L667.1,876.8L673.9,876.8L676.0,883.3Z"/><path d="M677.5,881.3L672.0,877.3L674.1,870.8L680.9,870.8L683.0,877.3Z"/><path d="M683.5,879.3L678.0,875.3L680.1,868.8L686.9,868.8L689.0,875.3Z"/><path d="M689.5,883.3L684.0,879.3L686.1,872.8L692.9,872.8L695.0,879.3Z"/><path d="M695.5,889.3L690.0,885.3L692.1,878.8L698.9,878.8L701.0,885.3Z"/><path d="M701.5,889.3L696.0,885.3L698.1,878.8L704.9,878.8L707.0,885.3Z"/><path d="M708.5,889.3L703.0,885.3L705.1,878.8L711.9,878.8L714.0,885.3Z"/><path d="M714.5,887.3L709.0,883.3L711.1,876.8L717.9,876.8L720.0,883.3Z"/><path d="M720.5,891.3L715.0,887.3L717.1,880.8L723.9,880.8L726.0,887.3Z"/><path d="M726.5,894.3L721.0,890.3L723.1,883.8L729.9,883.8L732.0,890.3Z"/><path d="M733.5,895.3L728.0,891.3L730.1,884.8L736.9,884.8L739.0,891.3Z"/><path d="M739.5,893.3L734.0,889.3L736.1,882.8L742.9,882.8L745.0,889.3Z"/><path d="M745.5,909.3L740.0,905.3L742.1,898.8L748.9,898.8L751.0,905.3Z"/><path d="M751.5,901.3L746.0,897.3L748.1,890.8L754.9,890.8L757.0,897.3Z"/><path d="M757.5,902.3L752.0,898.3L754.1,891.8L760.9,891.8L763.0,898.3Z"/><path d="M764.5,900.3L759.0,896.3L761.1,889.8L767.9,889.8L770.0,896.3Z"/><path d="M770.5,897.3L765.0,893.3L767.1,886.8L773.9,886.8L776.0,893.3Z"/><path d="M776.5,901.3L771.0,897.3L773.1,890.8L779.9,890.8L782.0,897.3Z"/><path d="M782.5,901.3L777.0,897.3L779.1,890.8L785.9,890.8L788.0,897.3Z"/><path d="M789.5,897.3L784.0,893.3L786.1,886.8L792.9,886.8L795.0,893.3Z"/><path d="M795.5,891.3L790.0,887.3L792.1,880.8L798.9,880.8L801.0,887.3Z"/><path d="M801.5,891.3L796.0,887.3L798.1,880.8L804.9,880.8L807.0,887.3Z"/><path d="M807.5,895.3L802.0,891.3L804.1,884.8L810.9,884.8L813.0,891.3Z"/><path d="M813.5,887.3L808.0,883.3L810.1,876.8L816.9,876.8L819.0,883.3Z"/><path d="M820.5,888.3L815.0,884.3L817.1,877.8L823.9,877.8L826.0,884.3Z"/><path d="M826.5,885.3L821.0,881.3L823.1,874.8L829.9,874.8L832.0,881.3Z"/><path d="M832.5,892.3L827.0,888.3L829.1,881.8L835.9,881.8L838.0,888.3Z"/><path d="M838.5,897.3L833.0,893.3L835.1,886.8L841.9,886.8L844.0,893.3Z"/><path d="M844.5,902.3L839.0,898.3L841.1,891.8L847.9,891.8L850.0,898.3Z"/><path d="M851.5,897.3L846.0,893.3L848.1,886.8L854.9,886.8L857.0,893.3Z"/><path d="M857.5,897.3L852.0,893.3L854.1,886.8L860.9,886.8L863.0,893.3Z"/><path d="M863.5,900.3L858.0,896.3L860.1,889.8L866.9,889.8L869.0,896.3Z"/><path d="M869.5,900.3L864.0,896.3L866.1,889.8L872.9,889.8L875.0,896.3Z"/><path d="M876.5,902.3L871.0,898.3L873.1,891.8L879.9,891.8L882.0,898.3Z"/><path d="M882.5,904.3L877.0,900.3L879.1,893.8L885.9,893.8L888.0,900.3Z"/><path d="M888.5,903.3L883.0,899.3L885.1,892.8L891.9,892.8L894.0,899.3Z"/><path d="M907.5,900.3L902.0,896.3L904.1,889.8L910.9,889.8L913.0,896.3Z"/><path d="M925.5,891.3L920.0,887.3L922.1,880.8L928.9,880.8L931.0,887.3Z"/><path d="M944.5,872.3L939.0,868.3L941.1,861.8L947.9,861.8L950.0,868.3Z"/><path d="M963.5,847.3L958.0,843.3L960.1,836.8L966.9,836.8L969.0,843.3Z"/><path d="M981.5,875.3L976.0,871.3L978.1,864.8L984.9,864.8L987.0,871.3Z"/><path d="M1000.5,875.3L995.0,871.3L997.1,864.8L1003.9,864.8L1006.0,871.3Z"/><path d="M1019.5,867.3L1014.0,863.3L1016.1,856.8L1022.9,856.8L1025.0,863.3Z"/><path d="M1037.5,855.3L1032.0,851.3L1034.1,844.8L1040.9,844.8L1043.0,851.3Z"/><path d="M1056.5,785.3L1051.0,781.3L1053.1,774.8L1059.9,774.8L1062.0,781.3Z"/><path d="M1075.5,614.3L1070.0,610.3L1072.1,603.8L1078.9,603.8L1081.0,610.3Z"/><path d="M1093.5,552.3L1088.0,548.3L1090.1,541.8L1096.9,541.8L1099.0,548.3Z"/><path d="M1112.5,525.3L1107.0,521.3L1109.1,514.8L1115.9,514.8L1118.0,521.3Z"/><path d="M1131.5,530.3L1126.0,526.3L1128.1,519.8L1134.9,519.8L1137.0,526.3Z"/><path d="M1149.5,744.3L1144.0,740.3L1146.1,733.8L1152.9,733.8L1155.0,740.3Z"/><path d="M1168.5,853.3L1163.0,849.3L1165.1,842.8L1171.9,842.8L1174.0,849.3Z"/><path d="M1187.5,817.3L1182.0,813.3L1184.1,806.8L1190.9,806.8L1193.0,813.3Z"/><path d="M1205.5,840.3L1200.0,836.3L1202.1,829.8L1208.9,829.8L1211.0,836.3Z"/><path d="M1224.5,777.3L1219.0,773.3L1221.1,766.8L1227.9,766.8L1230.0,773.3Z"/><path d="M1243.5,811.3L1238.0,807.3L1240.1,800.8L1246.9,800.8L1249.0,807.3Z"/><path d="M1261.5,776.3L1256.0,772.3L1258.1,765.8L1264.9,765.8L1267.0,772.3Z"/><path d="M1280.5,826.3L1275.0,822.3L1277.1,815.8L1283.9,815.8L1286.0,822.3Z"/><path d="M1299.5,816.3L1294.0,812.3L1296.1,805.8L1302.9,805.8L1305.0,812.3Z"/><path d="M1317.5,865.3L1312.0,861.3L1314.1,854.8L1320.9,854.8L1323.0,861.3Z"/><path d="M1336.5,873.3L1331.0,869.3L1333.1,862.8L1339.9,862.8L1342.0,869.3Z"/><path d="M1355.5,859.3L1350.0,855.3L1352.1,848.8L1358.9,848.8L1361.0,855.3Z"/><path d="M1373.5,851.3L1368.0,847.3L1370.1,840.8L1376.9,840.8L1379.0,847.3Z"/><path d="M1392.5,861.3L1387.0,857.3L1389.1,850.8L1395.9,850.8L1398.0,857.3Z"/><path d="M1411.5,853.3L1406.0,849.3L1408.1,842.8L1414.9,842.8L1417.0,849.3Z"/><path d="M1429.5,837.3L1424.0,833.3L1426.1,826.8L1432.9,826.8L1435.0,833.3Z"/><path d="M1448.5,837.3L1443.0,833.3L1445.1,826.8L1451.9,826.8L1454.0,833.3Z"/></g>
<g fill="none" stroke="#ffa500" stroke-width="1"><path d="M142.9,747.5h11.2M148.5,741.9v11.2M143.1,742.1l10.8,10.8M143.1,752.9l10.8,-10.8"/><path d="M148.9,743.5h11.2M154.5,737.9v11.2M149.1,738.1l10.8,10.8M149.1,748.9l10.8,-10.8"/><path d="M154.9,738.5h11.2M160.5,732.9v11.2M155.1,733.1l10.8,10.8M155.1,743.9l10.8,-10.8"/><path d="M160.9,738.5h11.2M166.5,732.9v11.2M161.1,733.1l10.8,10.8M161.1,743.9l10.8,-10.8"/><path d="M167.9,743.5h11.2M173.5,737.9v11.2M168.1,738.1l10.8,10.8M168.1,748.9l10.8,-10.8"/><path d="M173.9,753.5h11.2M179.5,747.9v11.2M174.1,748.1l10.8,10.8M174.1,758.9l10.8,-10.8"/><path d="M179.9,755.5h11.2M185.5,749.9v11.2M180.1,750.1l10.8,10.8M180.1,760.9l10.8,-10.8"/><path d="M185.9,757.5h11.2M191.5,751.9v11.2M186.1,752.1l10.8,10.8M186.1,762.9l10.8,-10.8"/><path d="M192.9,767.5h11.2M198.5,761.9v11.2M193.1,762.1l10.8,10.8M193.1,772.9l10.8,-10.8"/><path d="M198.9,773.5h11.2M204.5,767.9v11.2M199.1,768.1l10.8,10.8M199.1,778.9l10.8,-10.8"/><path d="M204.9,789.5h11.2M210.5,783.9v11.2M205.1,784.1l10.8,10.8M205.1,794.9l10.8,-10.8"/><path d="M210.9,811.5h11.2M216.5,805.9v11.2M211.1,806.1l10.8,10.8M211.1,816.9l10.8,-10.8"/><path d="M216.9,827.5h11.2M222.5,821.9v11.2M217.1,822.1l10.8,10.8M217.1,832.9l10.8,-10.8"/><path d="M223.9,837.5h11.2M229.5,831.9v11.2M224.1,832.1l10.8,10.8M224.1,842.9l10.8,-10.8"/><path d="M229.9,850.5h11.2M235.5,844.9v11.2M230.1,845.1l10.8,10.8M230.1,855.9l10.8,-10.8"/><path d="M235.9,855.5h11.2M241.5,849.9v11.2M236.1,850.1l10.8,10.8M236.1,860.9l10.8,-10.8"/><path d="M241.9,850.5h11.2M247.5,844.9v11.2M242.1,845.1l10.8,10.8M242.1,855.9l10.8,-10.8"/><path d="M248.9,844.5h11.2M254.5,838.9v11.2M249.1,839.1l10.8,10.8M249.1,849.9l10.8,-10.8"/><path d="M254.9,843.5h11.2M260.5,837.9v11.2M255.1,838.1l10.8,10.8M255.1,848.9l10.8,-10.8"/><path d="M260.9,842.5h11.2M266.5,836.9v11.2M261.1,837.1l10.8,10.8M261.1,847.9l10.8,-10.8"/><path d="M266.9,839.5h11.2M272.5,833.9v11.2M267.1,834.1l10.8,10.8M267.1,844.9l10.8,-10.8"/><path d="M272.9,844.5h11.2M278.5,838.9v11.2M273.1,839.1l10.8,10.8M273.1,849.9l10.8,-10.8"/><path d="M279.9,848.5h11.2M285.5,842.9v11.2M280.1,843.1l10.8,10.8M280.1,853.9l10.8,-10.8"/><path d="M285.9,847.5h11.2M291.5,841.9v11.2M286.1,842.1l10.8,10.8M286.1,852.9l10.8,-10.8"/><path d="M291.9,846.5h11.2M297.5,840.9v11.2M292.1,841.1l10.8,10.8M292.1,851.9l10.8,-10.8"/><path d="M297.9,846.5h11.2M303.5,840.9v11.2M298.1,841.1l10.8,10.8M298.1,851.9l10.8,-10.8"/><path d="M304.9,843.5h11.2M310.5,837.9v11.2M305.1,838.1l10.8,10.8M305.1,848.9l10.8,-10.8"/><path d="M310.9,836.5h11.2M316.5,830.9v11.2M311.1,831.1l10.8,10.8M311.1,841.9l10.8,-10.8"/><path d="M316.9,832.5h11.2M322.5,826.9v11.2M317.1,827.1l10.8,10.8M317.1,837.9l10.8,-10.8"/><path d="M322.9,826.5h11.2M328.5,820.9v11.2M323.1,821.1l10.8,10.8M323.1,831.9l10.8,-10.8"/><path d="M328.9,825.5h11.2M334.5,819.9v11.2M329.1,820.1l10.8,10.8M329.1,830.9l10.8,-10.8"/><path d="M335.9,822.5h11.2M341.5,816.9v11.2M336.1,817.1l10.8,10.8M336.1,827.9l10.8,-10.8"/><path d="M341.9,818.5h11.2M347.5,812.9v11.2M342.1,813.1l10.8,10.8M342.1,823.9l10.8,-10.8"/><path d="M347.9,819.5h11.2M353.5,813.9v11.2M348.1,814.1l10.8,10.8M348.1,824.9l10.8,-10.8"/><path d="M353.9,813.5h11.2M359.5,807.9v11.2M354.1,808.1l10.8,10.8M354.1,818.9l10.8,-10.8"/><path d="M360.9,823.5h11.2M366.5,817.9v11.2M361.1,818.1l10.8,10.8M361.1,828.9l10.8,-10.8"/><path d="M378.9,797.5h11.2M384.5,791.9v11.2M379.1,792.1l10.8,10.8M379.1,802.9l10.8,-10.8"/><path d="M397.9,726.5h11.2M403.5,720.9v11.2M398.1,721.1l10.8,10.8M398.1,731.9l10.8,-10.8"/><path d="M416.9,736.5h11.2M422.5,730.9v11.2M417.1,731.1l10.8,10.8M417.1,741.9l10.8,-10.8"/><path d="M434.9,763.5h11.2M440.5,757.9v11.2M435.1,758.1l10.8,10.8M435.1,768.9l10.8,-10.8"/><path d="M453.9,789.5h11.2M459.5,783.9v11.2M454.1,784.1l10.8,10.8M454.1,794.9l10.8,-10.8"/><path d="M471.9,821.5h11.2M477.5,815.9v11.2M472.1,816.1l10.8,10.8M472.1,826.9l10.8,-10.8"/><path d="M490.9,825.5h11.2M496.5,819.9v11.2M491.1,820.1l10.8,10.8M491.1,830.9l10.8,-10.8"/><path d="M509.9,845.5h11.2M515.5,839.9v11.2M510.1,840.1l10.8,10.8M510.1,850.9l10.8,-10.8"/><path d="M527.9,872.5h11.2M533.5,866.9v11.2M528.1,867.1l10.8,10.8M528.1,877.9l10.8,-10.8"/><path d="M546.9,878.5h11.2M552.5,872.9v11.2M547.1,873.1l10.8,10.8M547.1,883.9l10.8,-10.8"/><path d="M565.9,882.5h11.2M571.5,876.9v11.2M566.1,877.1l10.8,10.8M566.1,887.9l10.8,-10.8"/><path d="M583.9,882.5h11.2M589.5,876.9v11.2M584.1,877.1l10.8,10.8M584.1,887.9l10.8,-10.8"/><path d="M602.9,870.5h11.2M608.5,864.9v11.2M603.1,865.1l10.8,10.8M603.1,875.9l10.8,-10.8"/><path d="M621.9,850.5h11.2M627.5,844.9v11.2M622.1,845.1l10.8,10.8M622.1,855.9l10.8,-10.8"/><path d="M639.9,848.5h11.2M645.5,842.9v11.2M640.1,843.1l10.8,10.8M640.1,853.9l10.8,-10.8"/><path d="M658.9,864.5h11.2M664.5,858.9v11.2M659.1,859.1l10.8,10.8M659.1,869.9l10.8,-10.8"/><path d="M677.9,874.5h11.2M683.5,868.9v11.2M678.1,869.1l10.8,10.8M678.1,879.9l10.8,-10.8"/><path d="M695.9,856.5h11.2M701.5,850.9v11.2M696.1,851.1l10.8,10.8M696.1,861.9l10.8,-10.8"/><path d="M714.9,864.5h11.2M720.5,858.9v11.2M715.1,859.1l10.8,10.8M715.1,869.9l10.8,-10.8"/><path d="M733.9,874.5h11.2M739.5,868.9v11.2M734.1,869.1l10.8,10.8M734.1,879.9l10.8,-10.8"/><path d="M751.9,868.5h11.2M757.5,862.9v11.2M752.1,863.1l10.8,10.8M752.1,873.9l10.8,-10.8"/><path d="M770.9,858.5h11.2M776.5,852.9v11.2M771.1,853.1l10.8,10.8M771.1,863.9l10.8,-10.8"/><path d="M789.9,862.5h11.2M795.5,856.9v11.2M790.1,857.1l10.8,10.8M790.1,867.9l10.8,-10.8"/><path d="M807.9,869.5h11.2M813.5,863.9v11.2M808.1,864.1l10.8,10.8M808.1,874.9l10.8,-10.8"/><path d="M826.9,880.5h11.2M832.5,874.9v11.2M827.1,875.1l10.8,10.8M827.1,885.9l10.8,-10.8"/><path d="M845.9,872.5h11.2M851.5,866.9v11.2M846.1,867.1l10.8,10.8M846.1,877.9l10.8,-10.8"/><path d="M863.9,868.5h11.2M869.5,862.9v11.2M864.1,863.1l10.8,10.8M864.1,873.9l10.8,-10.8"/><path d="M882.9,866.5h11.2M888.5,860.9v11.2M883.1,861.1l10.8,10.8M883.1,871.9l10.8,-10.8"/><path d="M901.9,858.5h11.2M907.5,852.9v11.2M902.1,853.1l10.8,10.8M902.1,863.9l10.8,-10.8"/><path d="M919.9,848.5h11.2M925.5,842.9v11.2M920.1,843.1l10.8,10.8M920.1,853.9l10.8,-10.8"/><path d="M938.9,850.5h11.2M944.5,844.9v11.2M939.1,845.1l10.8,10.8M939.1,855.9l10.8,-10.8"/><path d="M957.9,859.5h11.2M963.5,853.9v11.2M958.1,854.1l10.8,10.8M958.1,864.9l10.8,-10.8"/><path d="M975.9,867.5h11.2M981.5,861.9v11.2M976.1,862.1l10.8,10.8M976.1,872.9l10.8,-10.8"/><path d="M994.9,841.5h11.2M1000.5,835.9v11.2M995.1,836.1l10.8,10.8M995.1,846.9l10.8,-10.8"/><path d="M1013.9,817.5h11.2M1019.5,811.9v11.2M1014.1,812.1l10.8,10.8M1014.1,822.9l10.8,-10.8"/><path d="M1031.9,805.5h11.2M1037.5,799.9v11.2M1032.1,800.1l10.8,10.8M1032.1,810.9l10.8,-10.8"/><path d="M1050.9,779.5h11.2M1056.5,773.9v11.2M1051.1,774.1l10.8,10.8M1051.1,784.9l10.8,-10.8"/><path d="M1069.9,781.5h11.2M1075.5,775.9v11.2M1070.1,776.1l10.8,10.8M1070.1,786.9l10.8,-10.8"/><path d="M1087.9,761.5h11.2M1093.5,755.9v11.2M1088.1,756.1l10.8,10.8M1088.1,766.9l10.8,-10.8"/><path d="M1106.9,767.5h11.2M1112.5,761.9v11.2M1107.1,762.1l10.8,10.8M1107.1,772.9l10.8,-10.8"/><path d="M1125.9,769.5h11.2M1131.5,763.9v11.2M1126.1,764.1l10.8,10.8M1126.1,774.9l10.8,-10.8"/><path d="M1143.9,761.5h11.2M1149.5,755.9v11.2M1144.1,756.1l10.8,10.8M1144.1,766.9l10.8,-10.8"/><path d="M1162.9,785.5h11.2M1168.5,779.9v11.2M1163.1,780.1l10.8,10.8M1163.1,790.9l10.8,-10.8"/><path d="M1181.9,816.5h11.2M1187.5,810.9v11.2M1182.1,811.1l10.8,10.8M1182.1,821.9l10.8,-10.8"/><path d="M1199.9,814.5h11.2M1205.5,808.9v11.2M1200.1,809.1l10.8,10.8M1200.1,819.9l10.8,-10.8"/><path d="M1218.9,820.5h11.2M1224.5,814.9v11.2M1219.1,815.1l10.8,10.8M1219.1,825.9l10.8,-10.8"/><path d="M1237.9,819.5h11.2M1243.5,813.9v11.2M1238.1,814.1l10.8,10.8M1238.1,824.9l10.8,-10.8"/><path d="M1255.9,831.5h11.2M1261.5,825.9v11.2M1256.1,826.1l10.8,10.8M1256.1,836.9l10.8,-10.8"/><path d="M1274.9,828.5h11.2M1280.5,822.9v11.2M1275.1,823.1l10.8,10.8M1275.1,833.9l10.8,-10.8"/><path d="M1293.9,805.5h11.2M1299.5,799.9v11.2M1294.1,800.1l10.8,10.8M1294.1,810.9l10.8,-10.8"/><path d="M1311.9,813.5h11.2M1317.5,807.9v11.2M1312.1,808.1l10.8,10.8M1312.1,818.9l10.8,-10.8"/><path d="M1330.9,826.5h11.2M1336.5,820.9v11.2M1331.1,821.1l10.8,10.8M1331.1,831.9l10.8,-10.8"/><path d="M1367.9,826.5h11.2M1373.5,820.9v11.2M1368.1,821.1l10.8,10.8M1368.1,831.9l10.8,-10.8"/><path d="M1405.9,837.5h11.2M1411.5,831.9v11.2M1406.1,832.1l10.8,10.8M1406.1,842.9l10.8,-10.8"/><path d="M1442.9,837.5h11.2M1448.5,831.9v11.2M1443.1,832.1l10.8,10.8M1443.1,842.9l10.8,-10.8"/></g>
<g fill="#00ffff"><path d="M142.5,796.4l5.85,-10.6h-11.7z"/><path d="M148.5,794.4l5.85,-10.6h-11.7z"/><path d="M154.5,853.4l5.85,-10.6h-11.7z"/><path d="M160.5,762.4l5.85,-10.6h-11.7z"/><path d="M166.5,743.4l5.85,-10.6h-11.7z"/><path d="M173.5,698.4l5.85,-10.6h-11.7z"/><path d="M179.5,715.4l5.85,-10.6h-11.7z"/><path d="M185.5,738.4l5.85,-10.6h-11.7z"/><path d="M191.5,732.4l5.85,-10.6h-11.7z"/><path d="M198.5,750.4l5.85,-10.6h-11.7z"/><path d="M204.5,764.4l5.85,-10.6h-11.7z"/><path d="M210.5,809.4l5.85,-10.6h-11.7z"/><path d="M216.5,859.4l5.85,-10.6h-11.7z"/><path d="M222.5,773.4l5.85,-10.6h-11.7z"/><path d="M229.5,830.4l5.85,-10.6h-11.7z"/><path d="M235.5,819.4l5.85,-10.6h-11.7z"/><path d="M241.5,858.4l5.85,-10.6h-11.7z"/><path d="M247.5,850.4l5.85,-10.6h-11.7z"/><path d="M254.5,844.4l5.85,-10.6h-11.7z"/><path d="M260.5,841.4l5.85,-10.6h-11.7z"/><path d="M266.5,801.4l5.85,-10.6h-11.7z"/><path d="M272.5,823.4l5.85,-10.6h-11.7z"/><path d="M278.5,832.4l5.85,-10.6h-11.7z"/><path d="M285.5,826.4l5.85,-10.6h-11.7z"/><path d="M291.5,820.4l5.85,-10.6h-11.7z"/><path d="M297.5,733.4l5.85,-10.6h-11.7z"/><path d="M303.5,747.4l5.85,-10.6h-11.7z"/><path d="M310.5,738.4l5.85,-10.6h-11.7z"/><path d="M316.5,746.4l5.85,-10.6h-11.7z"/><path d="M322.5,780.4l5.85,-10.6h-11.7z"/><path d="M328.5,808.4l5.85,-10.6h-11.7z"/><path d="M334.5,876.4l5.85,-10.6h-11.7z"/><path d="M341.5,878.4l5.85,-10.6h-11.7z"/><path d="M347.5,854.4l5.85,-10.6h-11.7z"/><path d="M353.5,802.4l5.85,-10.6h-11.7z"/><path d="M359.5,825.4l5.85,-10.6h-11.7z"/><path d="M366.5,816.4l5.85,-10.6h-11.7z"/><path d="M372.5,770.4l5.85,-10.6h-11.7z"/><path d="M378.5,777.4l5.85,-10.6h-11.7z"/><path d="M384.5,773.4l5.85,-10.6h-11.7z"/><path d="M390.5,800.4l5.85,-10.6h-11.7z"/><path d="M397.5,772.4l5.85,-10.6h-11.7z"/><path d="M403.5,744.4l5.85,-10.6h-11.7z"/><path d="M409.5,739.4l5.85,-10.6h-11.7z"/><path d="M415.5,749.4l5.85,-10.6h-11.7z"/><path d="M422.5,886.4l5.85,-10.6h-11.7z"/><path d="M428.5,884.4l5.85,-10.6h-11.7z"/><path d="M434.5,888.4l5.85,-10.6h-11.7z"/><path d="M440.5,900.4l5.85,-10.6h-11.7z"/><path d="M446.5,896.4l5.85,-10.6h-11.7z"/><path d="M453.5,892.4l5.85,-10.6h-11.7z"/><path d="M459.5,837.4l5.85,-10.6h-11.7z"/><path d="M465.5,784.4l5.85,-10.6h-11.7z"/><path d="M471.5,806.4l5.85,-10.6h-11.7z"/><path d="M477.5,808.4l5.85,-10.6h-11.7z"/><path d="M484.5,828.4l5.85,-10.6h-11.7z"/><path d="M490.5,822.4l5.85,-10.6h-11.7z"/><path d="M496.5,791.4l5.85,-10.6h-11.7z"/><path d="M502.5,775.4l5.85,-10.6h-11.7z"/><path d="M509.5,792.4l5.85,-10.6h-11.7z"/><path d="M515.5,819.4l5.85,-10.6h-11.7z"/><path d="M521.5,831.4l5.85,-10.6h-11.7z"/><path d="M527.5,821.4l5.85,-10.6h-11.7z"/><path d="M533.5,864.4l5.85,-10.6h-11.7z"/><path d="M540.5,868.4l5.85,-10.6h-11.7z"/><path d="M546.5,791.4l5.85,-10.6h-11.7z"/><path d="M552.5,827.4l5.85,-10.6h-11.7z"/><path d="M558.5,886.4l5.85,-10.6h-11.7z"/><path d="M565.5,874.4l5.85,-10.6h-11.7z"/><path d="M571.5,905.4l5.85,-10.6h-11.7z"/><path d="M577.5,895.4l5.85,-10.6h-11.7z"/><path d="M583.5,910.4l5.85,-10.6h-11.7z"/><path d="M589.5,901.4l5.85,-10.6h-11.7z"/></g>
</svg></body></html>
